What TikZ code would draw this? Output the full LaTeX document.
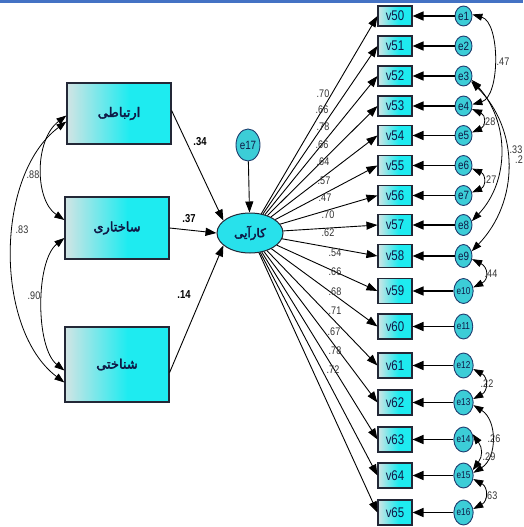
\documentclass[tikz,border=0pt]{standalone}
\usepackage{fontspec}
\setmainfont{Liberation Sans}
\newfontfamily\nar[FakeStretch=0.82]{Liberation Sans}
\newfontfamily\fa[Script=Arabic,FakeBold=3]{DejaVu Sans}
\TeXXeTstate=1
\usetikzlibrary{arrows.meta,shapes.geometric}
\definecolor{boxL}{RGB}{210,228,228}
\definecolor{boxR}{RGB}{30,235,240}
\definecolor{edgec}{RGB}{35,40,55}
\definecolor{ecirc}{RGB}{60,205,215}
\definecolor{ecircD}{RGB}{30,60,110}
\definecolor{latc}{RGB}{40,225,235}
\definecolor{topblue}{RGB}{68,114,196}
\definecolor{txtc}{RGB}{15,25,70}
\definecolor{lblc}{RGB}{50,50,50}
\pgfdeclarehorizontalshading{boxsh}{100bp}{color(0bp)=(boxL); color(25bp)=(boxL); color(55bp)=(boxR); color(100bp)=(boxR)}
\tikzset{
  bigbox/.style={draw=edgec, line width=1.2pt, shade, shading=boxsh, inner sep=0pt, minimum width=104pt, text=txtc, font=\fa\fontsize{13}{13}\selectfont},
  vbox/.style={draw=edgec, line width=1.1pt, shade, shading=boxsh, inner sep=0pt, minimum width=34pt, text=txtc, font=\nar\fontsize{14}{14}\selectfont},
  ebox/.style={ellipse, draw=ecircD, line width=0.9pt, fill=ecirc, inner sep=0pt, minimum width=17pt, text=txtc, font=\nar\fontsize{12}{12}\selectfont},
  latent/.style={ellipse, draw=edgec, line width=1pt, fill=latc, inner sep=0pt, minimum width=66pt, minimum height=40pt, text=txtc, font=\fa\fontsize{12}{12}\selectfont},
  earrow/.style={-{Triangle[length=11pt,width=9pt]}, line width=1.6pt, draw=black},
  load/.style={-{Triangle[length=11pt,width=8pt]}, line width=0.9pt, draw=black},
  patharrow/.style={-{Triangle[length=11pt,width=8pt]}, line width=0.9pt, draw=black},
  cov/.style={{Triangle[length=10pt,width=7pt]}-{Triangle[length=10pt,width=7pt]}, line width=0.8pt, draw=black},
  lab/.style={inner sep=0pt, text=lblc, font=\nar\fontsize{11}{11}\selectfont},
  blab/.style={inner sep=0pt, text=black, font=\nar\bfseries\fontsize{11.5}{11.5}\selectfont}
}
\begin{document}
\begin{tikzpicture}[x=1pt,y=-1pt]
\useasboundingbox (0,0) rectangle (523,527);
\fill[white] (0,0) rectangle (523,527);
\fill[topblue] (0,0) rectangle (523,3);

% exogenous boxes
\node[bigbox, minimum height=61pt] (r1) at (119,113.5) {\beginR ارتباطی\endR};
\node[bigbox, minimum height=62pt] (r2) at (117,228) {\beginR ساختاری\endR};
\node[bigbox, minimum height=75pt] (r3) at (117,364.5) {\beginR شناختی\endR};

% latent
\node[latent] (k) at (250,233) {\beginR کارآیی\endR};
\node[ebox, minimum width=24pt, minimum height=32pt, font=\nar\fontsize{12}{12}\selectfont] (e17) at (248,145) {e17};
\draw[patharrow] (e17) -- (k);

% paths
\draw[patharrow] ([yshift=3pt]r1.east) -- (k.155);
\draw[patharrow] (r2.east) -- (k.west);
\draw[patharrow] ([yshift=-8pt]r3.east) -- (k.205);
\node[blab] (p1) at (200,142) {.34};
\node[blab] (p2) at (189,219) {.37};
\node[blab] (p3) at (184,295) {.14};

% left covariances
\draw[cov] ([yshift=-2pt]r1.west) .. controls +(-32,24) and +(-30,-20) .. ([yshift=8pt]r2.west);
\draw[cov] ([yshift=-8pt]r1.west) .. controls +(-72,54) and +(-70,-53) .. ([yshift=-18pt]r3.west);
\draw[cov] ([yshift=-10pt]r2.west) .. controls +(-29,23) and +(-29,-23) .. ([yshift=-6pt]r3.west);
\node[lab] (c1) at (33,175) {.88};
\node[lab] (c2) at (22,230) {.83};
\node[lab] (c3) at (34,296) {.90};

% indicators
\foreach \i/\y/\h [count=\n] in {50/16/20,51/46/20,52/76/20,53/106/20,54/135.5/20,55/165.5/20,56/195.5/20,57/225/21,58/256/23,59/291/25,60/326.5/25,61/365.5/25,62/402.5/25,63/439.5/25,64/475.5/25,65/512.5/25}{
  \node[vbox, minimum height=\h pt] (v\i) at (395,\y) {v\i};
  \node[ebox, minimum height=\h pt] (e\n) at (463.5,\y) {\ifnum\n>9 \fontsize{10}{10}\selectfont\fi e\n};
  \draw[earrow] (e\n) -- (v\i);
}

% loadings
\foreach \i/\l/\lx/\ly in {50/.70/323/94,51/.66/322/110,52/.78/323/127,53/.66/322/145,54/.64/323/162,55/.57/324/181,56/.47/325/198,57/.70/328/215,58/.62/328/233,59/.54/335/253,60/.66/335/272,61/.68/335/292,62/.71/335/311,63/.67/334/332,64/.78/335/351,65/.72/333/370}{
  \draw[load] (k) -- (v\i.west);
  \node[lab] (L\i) at (\lx,\ly) {\l};
}

% right covariances
\draw[cov] (e1.10) .. controls +(28,8) and +(28,-8) .. (e4.10);
\draw[cov] (e3.-25) .. controls +(38,42) and +(38,-40) .. (e8.25);
\draw[cov] (e3.-35) .. controls +(48,48) and +(48,-50) .. (e9.30);
\draw[cov] (e4.-20) .. controls +(14,6) and +(14,-6) .. (e5.20);
\draw[cov] (e6.-20) .. controls +(14,6) and +(14,-6) .. (e7.20);
\draw[cov] (e9.-20) .. controls +(16,8) and +(16,-8) .. (e10.20);
\draw[cov] (e12.-20) .. controls +(15,8) and +(15,-8) .. (e13.20);
\draw[cov] (e13.-15) .. controls +(24,15) and +(24,-15) .. (e15.15);
\draw[cov] (e14.30) .. controls +(10,14) and +(10,-14) .. (e15.30);
\draw[cov] (e15.-20) .. controls +(15,8) and +(15,-8) .. (e16.20);
\node[lab] (k1) at (503,62) {.47};
\node[lab] (k2) at (516,150) {.33};
\node[lab] (k3) at (519,160) {.2};
\node[lab] (k4) at (489,122) {.28};
\node[lab] (k5) at (490,180) {.27};
\node[lab] (k6) at (491,274) {.44};
\node[lab] (k7) at (487,384) {.22};
\node[lab] (k8) at (494,439) {.26};
\node[lab] (k9) at (489,457) {.29};
\node[lab] (k10) at (491,496) {.63};
\end{tikzpicture}
\end{document}
